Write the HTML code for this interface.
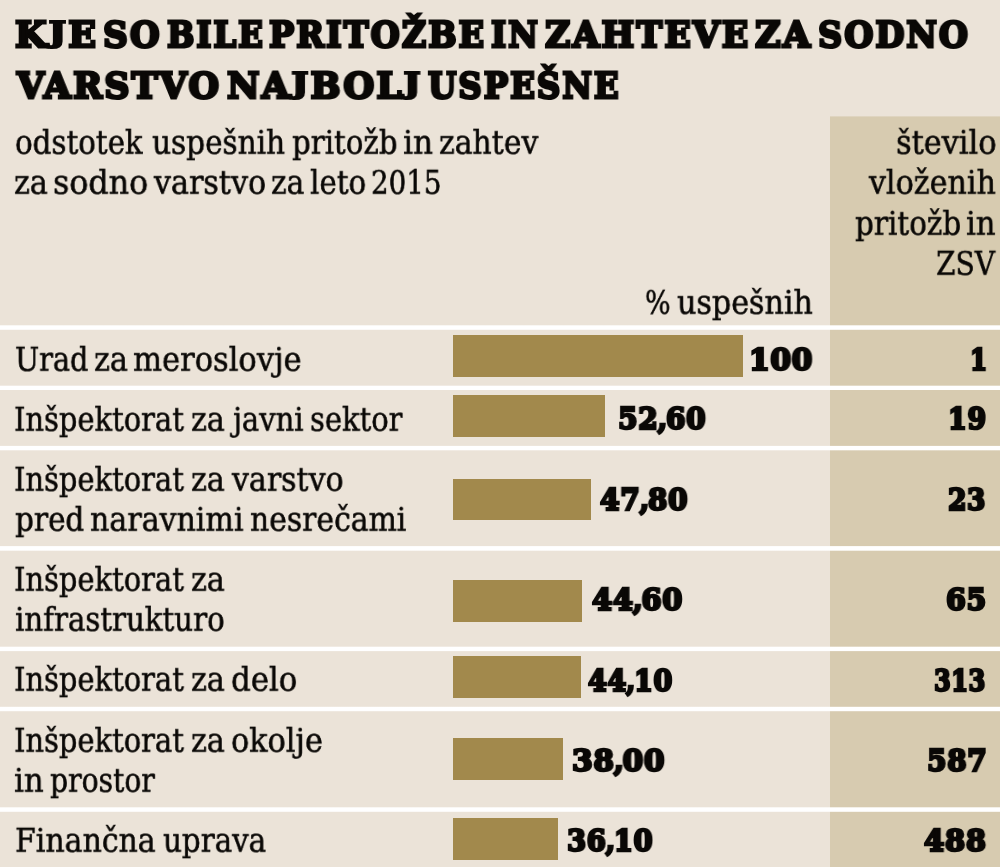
<!DOCTYPE html>
<html lang="sl">
<head>
<meta charset="utf-8">
<title>Kje so bile pritožbe in zahteve za sodno varstvo najbolj uspešne</title>
<style>
html,body{margin:0;padding:0}
body{width:1000px;height:868px;overflow:hidden;background:#ebe3d8;position:relative;color:#0a0806;font-family:"DejaVu Serif", "Liberation Serif", serif;}
.col{position:absolute;left:830px;top:116px;width:170px;height:752px;background:linear-gradient(to bottom,rgba(215,203,176,0.6) 0.5px,#d7cbb0 1.5px)}
.ln{position:absolute;left:0;width:1000px}
.bar{position:absolute;left:452.9px;background:#a2894c}
.l{position:absolute;left:0;top:0;margin:0;padding:0;font-size:inherit;font-weight:inherit}
.w{position:absolute;white-space:nowrap;line-height:1;transform-origin:0 0;will-change:transform}
.title{font-size:36px;font-weight:bold;-webkit-text-stroke:2.8px #0a0806;letter-spacing:0.06em}
.body{font-size:35px;font-weight:normal;-webkit-text-stroke:0.6px #0a0806}
.num{font-size:30px;font-weight:bold;-webkit-text-stroke:2.6px #0a0806;letter-spacing:0.02em}
.cm{margin:0 -0.07em 0 -0.03em}
.j{display:inline-block;transform:scaleY(0.8);transform-origin:0 6.3px}
</style>
</head>
<body>
<div class="col"></div>
<div class="bar" style="top:335.0px;height:42.0px;width:290.0px"></div>
<div class="bar" style="top:395.0px;height:42.0px;width:152.4px"></div>
<div class="bar" style="top:478.8px;height:41.6px;width:138.6px"></div>
<div class="bar" style="top:580.3px;height:42.0px;width:129.4px"></div>
<div class="bar" style="top:656.0px;height:42.0px;width:127.8px"></div>
<div class="bar" style="top:738.0px;height:42.0px;width:110.1px"></div>
<div class="bar" style="top:818.0px;height:41.6px;width:104.8px"></div>
<div class="ln" style="top:325px;height:5px;background:linear-gradient(to bottom,rgba(255,255,255,0.70) 0.5px,rgba(255,255,255,1.00) 1.5px,rgba(255,255,255,1.00) 2.5px,rgba(255,255,255,1.00) 3.5px,rgba(255,255,255,0.80) 4.5px)"></div>
<div class="ln" style="top:385px;height:5px;background:linear-gradient(to bottom,rgba(255,255,255,0.30) 0.5px,rgba(255,255,255,1.00) 1.5px,rgba(255,255,255,1.00) 2.5px,rgba(255,255,255,1.00) 3.5px,rgba(255,255,255,1.00) 4.5px)"></div>
<div class="ln" style="top:445px;height:6px;background:linear-gradient(to bottom,rgba(255,255,255,0.10) 0.5px,rgba(255,255,255,1.00) 1.5px,rgba(255,255,255,1.00) 2.5px,rgba(255,255,255,1.00) 3.5px,rgba(255,255,255,1.00) 4.5px,rgba(255,255,255,0.30) 5.5px)"></div>
<div class="ln" style="top:546px;height:5px;background:linear-gradient(to bottom,rgba(255,255,255,0.90) 0.5px,rgba(255,255,255,1.00) 1.5px,rgba(255,255,255,1.00) 2.5px,rgba(255,255,255,1.00) 3.5px,rgba(255,255,255,0.70) 4.5px)"></div>
<div class="ln" style="top:646px;height:6px;background:linear-gradient(to bottom,rgba(255,255,255,0.30) 0.5px,rgba(255,255,255,1.00) 1.5px,rgba(255,255,255,1.00) 2.5px,rgba(255,255,255,1.00) 3.5px,rgba(255,255,255,1.00) 4.5px,rgba(255,255,255,0.10) 5.5px)"></div>
<div class="ln" style="top:706px;height:6px;background:linear-gradient(to bottom,rgba(255,255,255,0.20) 0.5px,rgba(255,255,255,1.00) 1.5px,rgba(255,255,255,1.00) 2.5px,rgba(255,255,255,1.00) 3.5px,rgba(255,255,255,1.00) 4.5px,rgba(255,255,255,0.20) 5.5px)"></div>
<div class="ln" style="top:807px;height:5px;background:linear-gradient(to bottom,rgba(255,255,255,0.70) 0.5px,rgba(255,255,255,1.00) 1.5px,rgba(255,255,255,1.00) 2.5px,rgba(255,255,255,1.00) 3.5px,rgba(255,255,255,0.80) 4.5px)"></div>
<div class="ln" style="top:867px;height:5px;background:linear-gradient(to bottom,rgba(255,255,255,1.00) 0.5px,rgba(255,255,255,1.00) 1.5px,rgba(255,255,255,1.00) 2.5px,rgba(255,255,255,1.00) 3.5px,rgba(255,255,255,1.00) 4.5px)"></div>
<div class="l title"><span class="w" style="left:15.49px;top:16px;transform:scale(1.0110,1.0)">K<span class="j">J</span>E</span> <span class="w" style="left:102.52px;top:16px;transform:scale(0.9505,1.0)">SO</span> <span class="w" style="left:166.53px;top:16px;transform:scale(0.9007,1.0)">BILE</span> <span class="w" style="left:269.22px;top:16px;transform:scale(0.9300,1.0)">PRITOŽBE</span> <span class="w" style="left:490.93px;top:16px;transform:scale(0.9041,1.0)">IN</span> <span class="w" style="left:545.06px;top:16px;transform:scale(0.9643,1.0)">ZAHTEVE</span> <span class="w" style="left:755.06px;top:16px;transform:scale(0.9777,1.0)">ZA</span> <span class="w" style="left:818.24px;top:16px;transform:scale(0.9292,1.0)">SODNO</span></div>
<div class="l title"><span class="w" style="left:17.37px;top:67px;transform:scale(0.9742,1.0)">VARSTVO</span> <span class="w" style="left:226.61px;top:67px;transform:scale(0.9878,1.0)">NA<span class="j">J</span>BOL<span class="j">J</span></span> <span class="w" style="left:427.65px;top:67px;transform:scale(0.9028,1.0)">USPEŠNE</span></div>
<div class="l body"><span class="w" style="left:14.83px;top:127px;transform:scale(0.8370,0.92)">odstotek</span> <span class="w" style="left:152.09px;top:127px;transform:scale(0.8434,0.92)">uspešnih</span> <span class="w" style="left:291.80px;top:127px;transform:scale(0.8348,0.92)">pritožb</span> <span class="w" style="left:402.92px;top:127px;transform:scale(0.8903,0.92)">in</span> <span class="w" style="left:439.32px;top:127px;transform:scale(0.8527,0.92)">zahtev</span></div>
<div class="l body"><span class="w" style="left:14.42px;top:167px;transform:scale(0.8563,0.92)">za</span> <span class="w" style="left:53.10px;top:167px;transform:scale(0.9057,0.92)">sodno</span> <span class="w" style="left:154.40px;top:167px;transform:scale(0.8604,0.92)">varstvo</span> <span class="w" style="left:270.83px;top:167px;transform:scale(0.8457,0.92)">za</span> <span class="w" style="left:310.20px;top:167px;transform:scale(0.8376,0.92)">leto</span> <span class="w" style="left:370.51px;top:167px;transform:scale(0.7927,0.92)">2015</span></div>
<div class="l body"><span class="w" style="left:896.17px;top:127px;transform:scale(0.8663,0.92)">število</span></div>
<div class="l body"><span class="w" style="left:868.90px;top:167px;transform:scale(0.8601,0.92)">vloženih</span></div>
<div class="l body"><span class="w" style="left:855.09px;top:208px;transform:scale(0.8404,0.92)">pritožb</span> <span class="w" style="left:966.24px;top:208px;transform:scale(0.8747,0.92)">in</span></div>
<div class="l body"><span class="w" style="left:936.31px;top:248px;transform:scale(0.8028,0.92)">ZSV</span></div>
<div class="l body"><span class="w" style="left:644.70px;top:287px;transform:scale(0.7670,0.92)">%</span> <span class="w" style="left:677.08px;top:287px;transform:scale(0.8613,0.92)">uspešnih</span></div>
<div class="l body"><span class="w" style="left:14.87px;top:344px;transform:scale(0.8196,0.92)">Urad</span> <span class="w" style="left:94.32px;top:344px;transform:scale(0.8590,0.92)">za</span> <span class="w" style="left:132.74px;top:344px;transform:scale(0.8723,0.92)">meroslovje</span></div>
<div class="l body"><span class="w" style="left:14.47px;top:404px;transform:scale(0.8265,0.92)">Inšpektorat</span> <span class="w" style="left:190.82px;top:404px;transform:scale(0.8563,0.92)">za</span> <span class="w" style="left:232.89px;top:404px;transform:scale(0.8272,0.92)">javni</span> <span class="w" style="left:310.13px;top:404px;transform:scale(0.8272,0.92)">sektor</span></div>
<div class="l body"><span class="w" style="left:14.47px;top:464px;transform:scale(0.8265,0.92)">Inšpektorat</span> <span class="w" style="left:190.82px;top:464px;transform:scale(0.8563,0.92)">za</span> <span class="w" style="left:232.00px;top:464px;transform:scale(0.8565,0.92)">varstvo</span></div>
<div class="l body"><span class="w" style="left:14.79px;top:504px;transform:scale(0.8420,0.92)">pred</span> <span class="w" style="left:90.06px;top:504px;transform:scale(0.8579,0.92)">naravnimi</span> <span class="w" style="left:250.26px;top:504px;transform:scale(0.8516,0.92)">nesrečami</span></div>
<div class="l body"><span class="w" style="left:14.47px;top:564px;transform:scale(0.8265,0.92)">Inšpektorat</span> <span class="w" style="left:190.82px;top:564px;transform:scale(0.8563,0.92)">za</span></div>
<div class="l body"><span class="w" style="left:15.08px;top:604px;transform:scale(0.8344,0.92)">infrastrukturo</span></div>
<div class="l body"><span class="w" style="left:14.47px;top:664px;transform:scale(0.8265,0.92)">Inšpektorat</span> <span class="w" style="left:190.82px;top:664px;transform:scale(0.8563,0.92)">za</span> <span class="w" style="left:230.98px;top:664px;transform:scale(0.8799,0.92)">delo</span></div>
<div class="l body"><span class="w" style="left:14.47px;top:725px;transform:scale(0.8265,0.92)">Inšpektorat</span> <span class="w" style="left:190.82px;top:725px;transform:scale(0.8563,0.92)">za</span> <span class="w" style="left:230.99px;top:725px;transform:scale(0.8650,0.92)">okolje</span></div>
<div class="l body"><span class="w" style="left:14.33px;top:765px;transform:scale(0.8809,0.92)">in</span> <span class="w" style="left:50.42px;top:765px;transform:scale(0.8058,0.92)">prostor</span></div>
<div class="l body"><span class="w" style="left:14.63px;top:825px;transform:scale(0.8554,0.92)">Finančna</span> <span class="w" style="left:163.39px;top:825px;transform:scale(0.8377,0.92)">uprava</span></div>
<div class="l num"><span class="w" style="left:749.05px;top:345px;transform:scale(0.9911,1.0)">100</span></div>
<div class="l num"><span class="w" style="left:618.08px;top:404px;transform:scale(0.9387,1.0)">52<span class="cm">,</span>60</span></div>
<div class="l num"><span class="w" style="left:600.36px;top:485px;transform:scale(0.9379,1.0)">47<span class="cm">,</span>80</span></div>
<div class="l num"><span class="w" style="left:591.66px;top:585px;transform:scale(0.9679,1.0)">44<span class="cm">,</span>60</span></div>
<div class="l num"><span class="w" style="left:587.66px;top:666px;transform:scale(0.9025,1.0)">44<span class="cm">,</span>10</span></div>
<div class="l num"><span class="w" style="left:572.01px;top:746px;transform:scale(0.9910,1.0)">38<span class="cm">,</span>00</span></div>
<div class="l num"><span class="w" style="left:566.87px;top:826px;transform:scale(0.9174,1.0)">36<span class="cm">,</span>10</span></div>
<div class="l num"><span class="w" style="left:969.86px;top:345px;transform:scale(0.8205,1.0)">1</span></div>
<div class="l num"><span class="w" style="left:948.07px;top:404px;transform:scale(0.8993,1.0)">19</span></div>
<div class="l num"><span class="w" style="left:948.18px;top:485px;transform:scale(0.8834,1.0)">23</span></div>
<div class="l num"><span class="w" style="left:946.32px;top:585px;transform:scale(0.9498,1.0)">65</span></div>
<div class="l num"><span class="w" style="left:934.26px;top:666px;transform:scale(0.8029,1.0)">313</span></div>
<div class="l num"><span class="w" style="left:927.39px;top:746px;transform:scale(0.9352,1.0)">587</span></div>
<div class="l num"><span class="w" style="left:923.96px;top:826px;transform:scale(0.9715,1.0)">488</span></div>
</body>
</html>
